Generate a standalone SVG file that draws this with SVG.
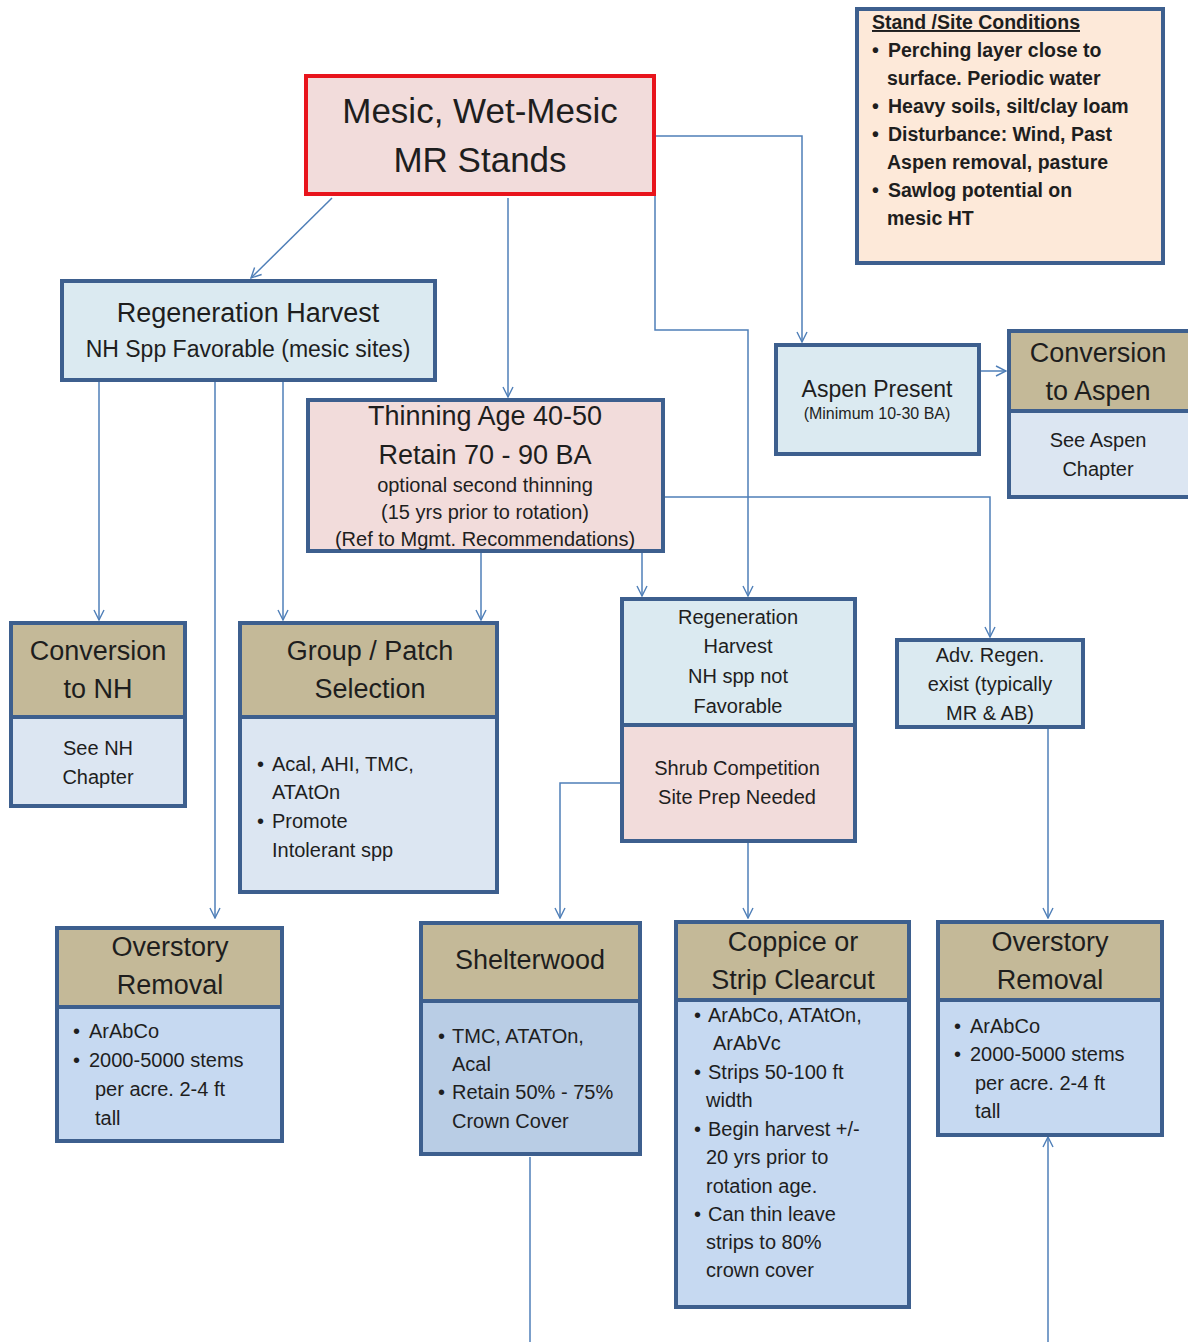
<svg xmlns="http://www.w3.org/2000/svg" width="1188" height="1342" viewBox="0 0 1188 1342">
<defs>
<marker id="arr" viewBox="0 0 12 12" refX="11" refY="6" markerWidth="12" markerHeight="12" markerUnits="userSpaceOnUse" orient="auto">
<path d="M1,1 L11,6 L1,11" fill="none" stroke="#4f7fb8" stroke-width="1.4"/>
</marker>
<style>
.box{stroke:#3d5f8e;stroke-width:4}
.red{stroke:#e8141c;stroke-width:4}
.lb{fill:#dbeaf1}
.pk{fill:#f2dcdb}
.pe{fill:#fde9d9}
.tan{fill:#c4b998}
.b1{fill:#dce6f2}
.b2{fill:#c6d9f1}
.b3{fill:#b9cde5}
.c{stroke:#4f7fb8;stroke-width:1.5;fill:none}
.ca{stroke:#4f7fb8;stroke-width:1.5;fill:none;marker-end:url(#arr)}
text{font-family:"Liberation Sans",Arial,sans-serif;fill:#1e1e1e}
.h{font-size:27px;text-anchor:middle}
.m{font-size:20px;text-anchor:middle}
.t{font-size:20px}
.s{font-size:19.5px;font-weight:bold}
</style>
</defs>
<rect width="1188" height="1342" fill="#ffffff"/>

<g id="connectors">
<path class="ca" d="M332,198 L251,278"/>
<path class="ca" d="M508,198 L508,397"/>
<path class="ca" d="M655,136 L802,136 L802,342"/>
<path class="ca" d="M655,196 L655,330 L748,330 L748,596"/>
<path class="ca" d="M980,371 L1006,371"/>
<path class="ca" d="M99,381 L99,620"/>
<path class="ca" d="M215,381 L215,918"/>
<path class="ca" d="M283,381 L283,620"/>
<path class="ca" d="M481,553 L481,620"/>
<path class="ca" d="M642,553 L642,596"/>
<path class="ca" d="M664,497 L990,497 L990,637"/>
<path class="ca" d="M621,783 L560,783 L560,918"/>
<path class="ca" d="M748,843 L748,918"/>
<path class="ca" d="M1048,718 L1048,918"/>
<path class="c" d="M530,1157 L530,1342"/>
<path class="ca" d="M1048,1342 L1048,1137"/>
</g>

<g id="site-conditions">
<rect class="box pe" x="857" y="9" width="306" height="254"/>
<text class="s" x="872" y="29" text-decoration="underline">Stand /Site Conditions</text>
<text class="s" x="872" y="57">•</text><text class="s" x="888" y="57">Perching layer close to</text>
<text class="s" x="887" y="85">surface.  Periodic water</text>
<text class="s" x="872" y="113">•</text><text class="s" x="888" y="113">Heavy soils, silt/clay loam</text>
<text class="s" x="872" y="141">•</text><text class="s" x="888" y="141">Disturbance: Wind, Past</text>
<text class="s" x="887" y="169">Aspen removal, pasture</text>
<text class="s" x="872" y="197">•</text><text class="s" x="888" y="197">Sawlog potential on</text>
<text class="s" x="887" y="225">mesic HT</text>
</g>

<g id="mesic">
<rect class="red pk" x="306" y="76" width="348" height="118"/>
<text style="font-size:35px;text-anchor:middle" x="480" y="123">Mesic, Wet-Mesic</text>
<text style="font-size:35px;text-anchor:middle" x="480" y="172">MR Stands</text>
</g>

<g id="regen-favorable">
<rect class="box lb" x="62" y="281" width="373" height="99"/>
<text class="h" x="248" y="322">Regeneration Harvest</text>
<text style="font-size:23px;text-anchor:middle" x="248" y="357">NH Spp  Favorable (mesic sites)</text>
</g>

<g id="thinning">
<rect class="box pk" x="308" y="400" width="355" height="151"/>
<text class="h" x="485" y="425">Thinning Age 40-50</text>
<text class="h" x="485" y="464">Retain  70 - 90 BA</text>
<text style="font-size:20px;text-anchor:middle" x="485" y="492">optional  second thinning</text>
<text style="font-size:20px;text-anchor:middle" x="485" y="519">(15 yrs prior to rotation)</text>
<text style="font-size:20px;text-anchor:middle" x="485" y="546">(Ref to Mgmt.  Recommendations)</text>
</g>

<g id="aspen-present">
<rect class="box lb" x="776" y="345" width="203" height="109"/>
<text style="font-size:23px;text-anchor:middle" x="877" y="397">Aspen Present</text>
<text style="font-size:16px;text-anchor:middle" x="877" y="419">(Minimum 10-30 BA)</text>
</g>

<g id="conversion-aspen">
<rect class="box tan" x="1009" y="331" width="184" height="80"/>
<rect class="box b1" x="1009" y="411" width="184" height="86"/>
<text class="h" x="1098" y="362">Conversion</text>
<text class="h" x="1098" y="400">to Aspen</text>
<text class="m" x="1098" y="447">See Aspen</text>
<text class="m" x="1098" y="476">Chapter</text>
</g>

<g id="conversion-nh">
<rect class="box tan" x="11" y="623" width="174" height="94"/>
<rect class="box b1" x="11" y="717" width="174" height="89"/>
<text class="h" x="98" y="660">Conversion</text>
<text class="h" x="98" y="698">to NH</text>
<text class="m" x="98" y="755">See NH</text>
<text class="m" x="98" y="784">Chapter</text>
</g>

<g id="group-patch">
<rect class="box tan" x="240" y="623" width="257" height="94"/>
<rect class="box b1" x="240" y="717" width="257" height="175"/>
<text class="h" x="370" y="660">Group / Patch</text>
<text class="h" x="370" y="698">Selection</text>
<text class="t" x="257" y="771">•</text><text class="t" x="272" y="771">Acal, AHI,  TMC,</text>
<text class="t" x="272" y="799">ATAtOn</text>
<text class="t" x="257" y="828">•</text><text class="t" x="272" y="828">Promote</text>
<text class="t" x="272" y="857">Intolerant  spp</text>
</g>

<g id="regen-not-favorable">
<rect class="box lb" x="622" y="599" width="233" height="126"/>
<rect class="box pk" x="622" y="725" width="233" height="116"/>
<text class="m" x="738" y="624">Regeneration</text>
<text class="m" x="738" y="653">Harvest</text>
<text class="m" x="738" y="683">NH spp not</text>
<text class="m" x="738" y="713">Favorable</text>
<text class="m" x="737" y="775">Shrub Competition</text>
<text class="m" x="737" y="804">Site Prep Needed</text>
</g>

<g id="adv-regen">
<rect class="box lb" x="897" y="640" width="186" height="87"/>
<text class="m" x="990" y="662">Adv. Regen.</text>
<text class="m" x="990" y="691">exist (typically</text>
<text class="m" x="990" y="720">MR &amp; AB)</text>
</g>

<g id="overstory-left">
<rect class="box tan" x="57" y="928" width="225" height="79"/>
<rect class="box b2" x="57" y="1007" width="225" height="134"/>
<text class="h" x="170" y="956">Overstory</text>
<text class="h" x="170" y="994">Removal</text>
<text class="t" x="73" y="1038">•</text><text class="t" x="89" y="1038">ArAbCo</text>
<text class="t" x="73" y="1067">•</text><text class="t" x="89" y="1067">2000-5000  stems</text>
<text class="t" x="95" y="1096">per acre.  2-4 ft</text>
<text class="t" x="95" y="1125">tall</text>
</g>

<g id="shelterwood">
<rect class="box tan" x="421" y="923" width="219" height="78"/>
<rect class="box b3" x="421" y="1001" width="219" height="153"/>
<text class="h" x="530" y="969">Shelterwood</text>
<text class="t" x="438" y="1043">•</text><text class="t" x="452" y="1043">TMC, ATATOn,</text>
<text class="t" x="452" y="1071">Acal</text>
<text class="t" x="438" y="1099">•</text><text class="t" x="452" y="1099">Retain 50% - 75%</text>
<text class="t" x="452" y="1128">Crown  Cover</text>
</g>

<g id="coppice">
<rect class="box tan" x="676" y="922" width="233" height="78"/>
<rect class="box b2" x="676" y="1000" width="233" height="307"/>
<text class="h" x="793" y="951">Coppice or</text>
<text class="h" x="793" y="989">Strip Clearcut</text>
<text class="t" x="694" y="1022">•</text><text class="t" x="708" y="1022">ArAbCo, ATAtOn,</text>
<text class="t" x="713" y="1050">ArAbVc</text>
<text class="t" x="694" y="1079">•</text><text class="t" x="708" y="1079">Strips 50-100  ft</text>
<text class="t" x="706" y="1107">width</text>
<text class="t" x="694" y="1136">•</text><text class="t" x="708" y="1136">Begin harvest +/-</text>
<text class="t" x="706" y="1164">20 yrs prior to</text>
<text class="t" x="706" y="1193">rotation age.</text>
<text class="t" x="694" y="1221">•</text><text class="t" x="708" y="1221">Can thin leave</text>
<text class="t" x="706" y="1249">strips  to 80%</text>
<text class="t" x="706" y="1277">crown cover</text>
</g>

<g id="overstory-right">
<rect class="box tan" x="938" y="922" width="224" height="78"/>
<rect class="box b2" x="938" y="1000" width="224" height="135"/>
<text class="h" x="1050" y="951">Overstory</text>
<text class="h" x="1050" y="989">Removal</text>
<text class="t" x="954" y="1033">•</text><text class="t" x="970" y="1033">ArAbCo</text>
<text class="t" x="954" y="1061">•</text><text class="t" x="970" y="1061">2000-5000  stems</text>
<text class="t" x="975" y="1090">per acre.  2-4 ft</text>
<text class="t" x="975" y="1118">tall</text>
</g>
</svg>
